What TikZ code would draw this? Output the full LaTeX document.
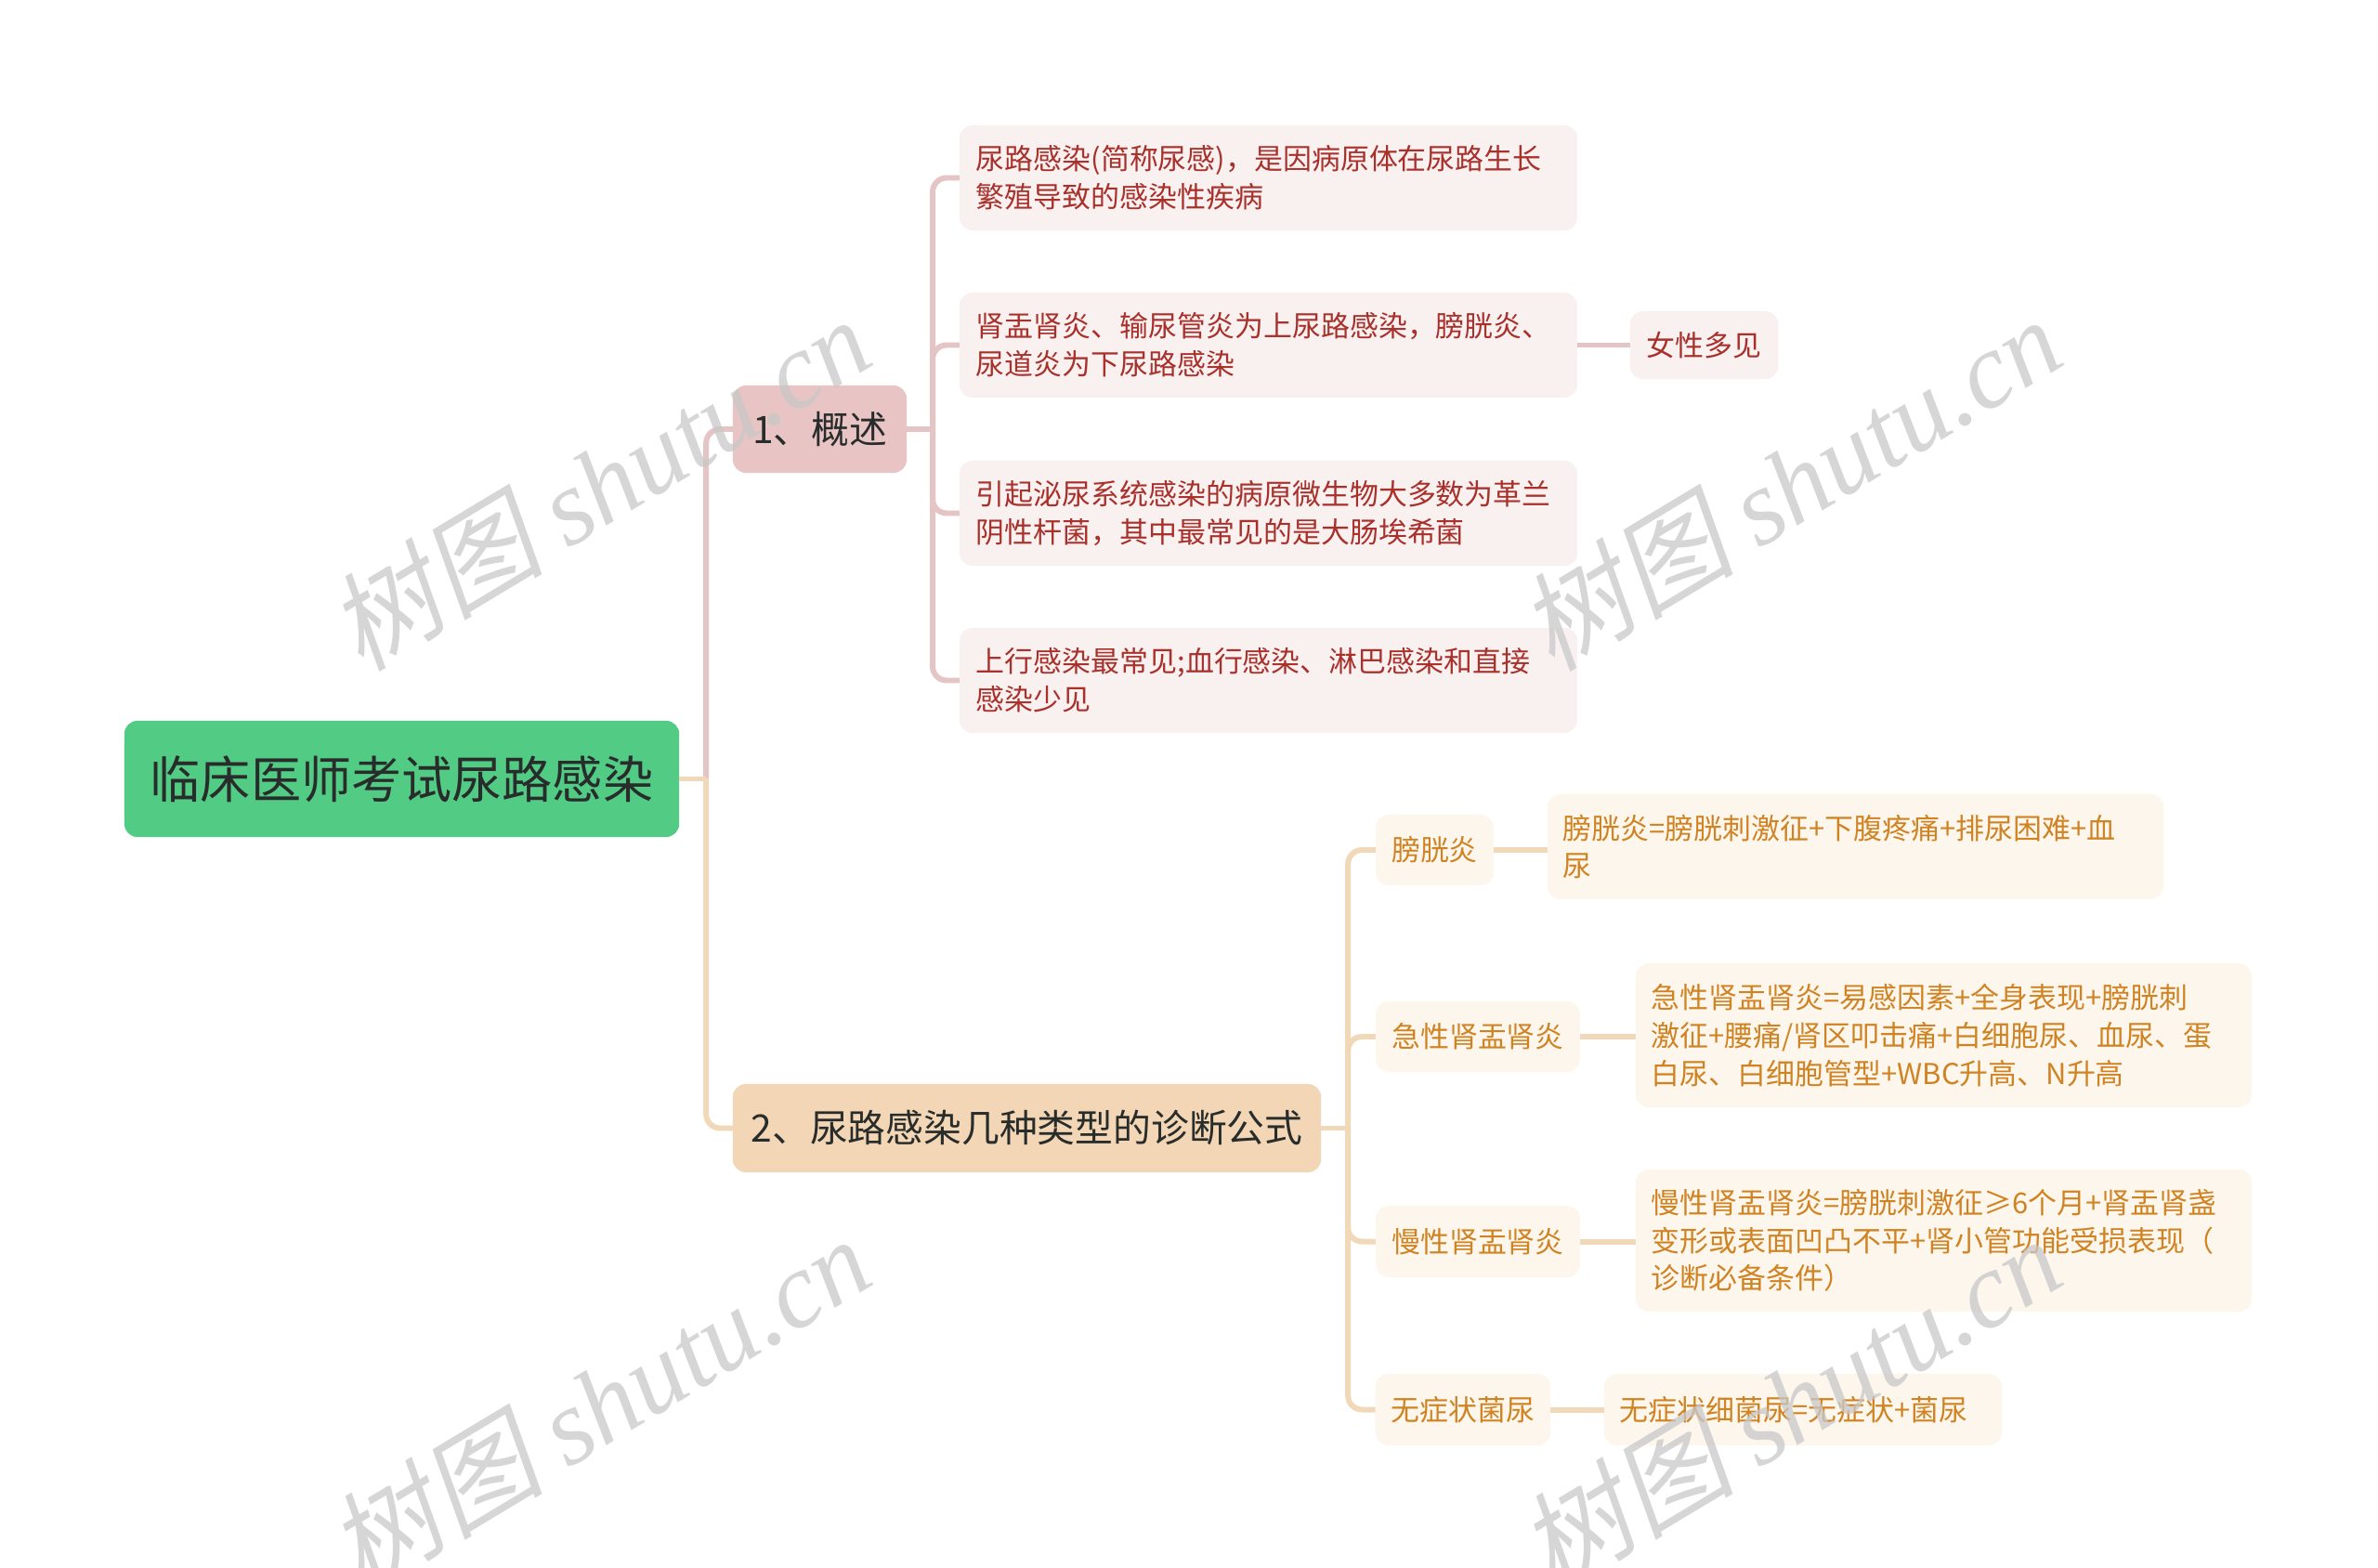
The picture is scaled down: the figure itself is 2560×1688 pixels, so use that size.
\documentclass[tikz,border=0pt]{standalone}
\usepackage{fontspec}
\setmainfont{Noto Sans CJK SC}
\newfontfamily\wmlatin{Liberation Serif}
\newfontfamily\wmcjk[FakeSlant=0.2]{Noto Sans CJK SC}
\usetikzlibrary{positioning}
\definecolor{rootgreen}{RGB}{82,203,133}
\definecolor{roottext}{RGB}{40,44,42}
\definecolor{pinkbox}{RGB}{232,196,196}
\definecolor{pinkleaf}{RGB}{249,240,240}
\definecolor{pinktext}{RGB}{168,49,44}
\definecolor{pinkline}{RGB}{228,196,196}
\definecolor{orangebox}{RGB}{242,214,182}
\definecolor{orangeleaf}{RGB}{253,246,237}
\definecolor{orangetext}{RGB}{208,131,34}
\definecolor{orangeline}{RGB}{241,216,184}
\definecolor{wmgray}{RGB}{200,200,200}

\begin{document}
\begin{tikzpicture}[x=0.01cm,y=-0.01cm,
    every node/.style={inner sep=0pt,outer sep=0pt},
    rootbox/.style={fill=rootgreen,text=roottext,rounded corners=4pt,
        minimum width=5.97cm,minimum height=1.25cm,font=\fontsize{15.4}{18}\selectfont},
    pinktopic/.style={fill=pinkbox,text=roottext,rounded corners=4pt,
        inner xsep=0.18cm,minimum height=0.94cm,font=\fontsize{11.6}{14}\selectfont},
    orangetopic/.style={fill=orangebox,text=roottext,rounded corners=4pt,
        inner xsep=0.18cm,minimum height=0.95cm,font=\fontsize{11.6}{14}\selectfont},
    pinkleaf/.style={fill=pinkleaf,text=pinktext,rounded corners=4pt,align=left,
        inner xsep=0.18cm,font=\fontsize{8.8}{11.6}\selectfont},
    orangeleaf/.style={fill=orangeleaf,text=orangetext,rounded corners=4pt,align=left,
        inner xsep=0.17cm,font=\fontsize{8.8}{11.6}\selectfont},
    wide/.style={text width=6.29cm},
    pinkconn/.style={draw=pinkline,line width=1.7pt,rounded corners=0.15cm},
    orangeconn/.style={draw=orangeline,line width=1.7pt,rounded corners=0.15cm},
    watermark/.style={rotate=31,text=wmgray,opacity=0.75,font=\fontsize{33}{37}\selectfont}]
\useasboundingbox (0,0) rectangle (2560,1688);

\node[rootbox] (root) at (432.5,838.5) {临床医师考试尿路感染};
\node[pinktopic,minimum width=1.87cm] (gaishu) at (882.5,462) {1、概述};
\node[orangetopic,minimum width=6.33cm] (gongshi) at (1105.5,1214.5) {2、尿路感染几种类型的诊断公式};

% overview
\node[pinkleaf,wide,minimum height=1.13cm] (def) at (1365.5,191.5) {尿路感染(简称尿感)，是因病原体在尿路生长\\繁殖导致的感染性疾病};
\node[pinkleaf,wide,minimum height=1.13cm] (fenlei) at (1365.5,371.5) {肾盂肾炎、输尿管炎为上尿路感染，膀胱炎、\\尿道炎为下尿路感染};
\node[pinkleaf,wide,minimum height=1.13cm] (bingyuan) at (1365.5,552.5) {引起泌尿系统感染的病原微生物大多数为革兰\\阴性杆菌，其中最常见的是大肠埃希菌};
\node[pinkleaf,wide,minimum height=1.13cm] (tujing) at (1365.5,732.5) {上行感染最常见;血行感染、淋巴感染和直接\\感染少见};
\node[pinkleaf,minimum width=1.59cm,minimum height=0.73cm] (nvxing) at (1834.5,371.5) {女性多见};

% formulas
\node[orangeleaf,minimum width=1.27cm,minimum height=0.76cm] (pgy) at (1544.5,915) {膀胱炎};
\node[orangeleaf,minimum width=2.2cm,minimum height=0.76cm] (jixing) at (1591,1116) {急性肾盂肾炎};
\node[orangeleaf,minimum width=2.2cm,minimum height=0.77cm] (manxing) at (1591,1336.5) {慢性肾盂肾炎};
\node[orangeleaf,minimum width=1.88cm,minimum height=0.77cm] (wuzheng) at (1575,1517.5) {无症状菌尿};

\node[orangeleaf,wide,minimum height=1.13cm] (pgyf) at (1997.5,911.5) {膀胱炎=膀胱刺激征+下腹疼痛+排尿困难+血\\尿};
\node[orangeleaf,wide,minimum height=1.55cm] (jixingf) at (2092.5,1114.5) {急性肾盂肾炎=易感因素+全身表现+膀胱刺\\激征+腰痛/肾区叩击痛+白细胞尿、血尿、蛋\\白尿、白细胞管型+WBC升高、N升高};
\node[orangeleaf,wide,minimum height=1.53cm] (manxingf) at (2092.5,1335.5) {慢性肾盂肾炎=膀胱刺激征≥6个月+肾盂肾盏\\变形或表面凹凸不平+肾小管功能受损表现（\\诊断必备条件）};
\node[orangeleaf,text width=3.94cm,minimum height=0.77cm] (wuzhengf) at (1941,1517.5) {无症状细菌尿=无症状+菌尿};

% connectors
\path (root.east) ++(29,0) coordinate (rj);
\path (gaishu.east) ++(28,0) coordinate (j1);
\path (gongshi.east) ++(29,0) coordinate (j2);

\draw[pinkconn] (rj) |- (gaishu.west);
\draw[orangeconn] (rj) |- (gongshi.west);
\draw[orangeconn] (root.east) -- (rj);

\draw[pinkconn] (gaishu.east) -- (j1);
\foreach \n in {def,fenlei,bingyuan,tujing}
  \draw[pinkconn] (j1) |- (\n.west);
\draw[pinkconn] (fenlei.east) -- (nvxing.west);

\draw[orangeconn] (gongshi.east) -- (j2);
\foreach \n in {pgy,jixing,manxing,wuzheng}
  \draw[orangeconn] (j2) |- (\n.west);
\draw[orangeconn] (pgy.east) -- (pgy.east -| pgyf.west);
\draw[orangeconn] (jixing.east) -- (jixing.east -| jixingf.west);
\draw[orangeconn] (manxing.east) -- (manxing.east -| manxingf.west);
\draw[orangeconn] (wuzheng.east) -- (wuzheng.east -| wuzhengf.west);

% watermarks
\foreach \p [count=\i] in {(645,520),(1927,520),(645,1510),(1927,1510)}
  \node[watermark] (wm\i) at \p {{\wmcjk 树图} {\wmlatin\itshape shutu.cn}};
\end{tikzpicture}
\end{document}
